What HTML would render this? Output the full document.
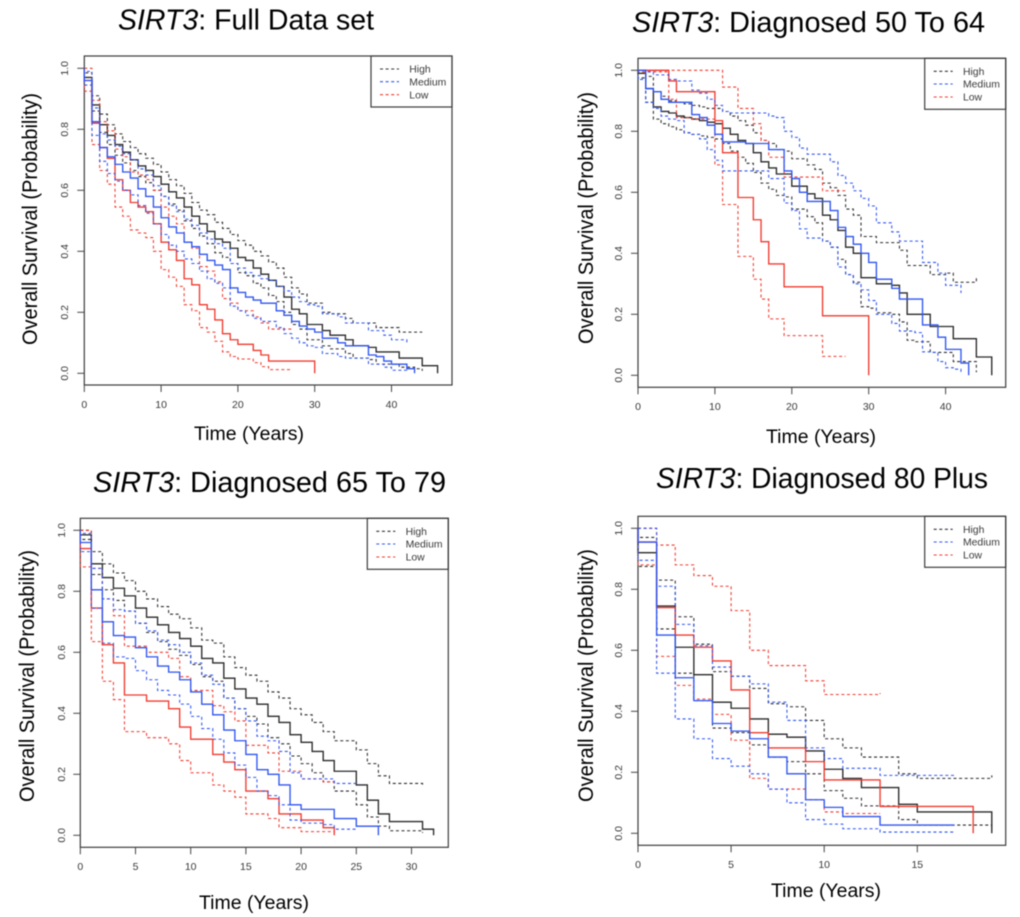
<!DOCTYPE html>
<html lang="en">
<head>
<meta charset="utf-8">
<title>SIRT3 survival curves</title>
<style>
html,body{margin:0;padding:0;background:#fff;width:1020px;height:917px;overflow:hidden}
svg{display:block;filter:blur(0.45px)}
text{font-family:"Liberation Sans",sans-serif}
.title,.axis-title{fill:#000}
.tick{font-size:10.5px;fill:#3a3a3a}
.legend-text{font-size:10.4px;fill:#3a3a3a}
.frame{fill:none;stroke:#3c3c3c;stroke-width:1.2}
.legend-line{stroke-width:1.05;stroke-dasharray:3 2.6}
</style>
</head>
<body>
<svg id="chart" xmlns="http://www.w3.org/2000/svg" width="1020" height="917" viewBox="0 0 1020 917">
  <rect x="0" y="0" width="1020" height="917" fill="#fff"/>

  <g id="panel-full">
    <text class="title" x="118" y="29.5" font-size="29" textLength="256" lengthAdjust="spacingAndGlyphs"><tspan font-style="italic">SIRT3</tspan>: Full Data set</text>
    <text class="axis-title" transform="translate(37,345) rotate(-90)" font-size="21" textLength="252" lengthAdjust="spacingAndGlyphs">Overall Survival (Probability)</text>
    <text class="axis-title" x="194" y="440" font-size="19" textLength="110" lengthAdjust="spacingAndGlyphs">Time (Years)</text>
    <rect class="frame" x="84.3" y="56" width="367.7" height="329"/>
    <g>
      <rect class="frame" x="371" y="56" width="81" height="51"/>
      <line class="legend-line" x1="380" x2="399" y1="69" y2="69" stroke="#333"/>
      <line class="legend-line" x1="380" x2="399" y1="81.7" y2="81.7" stroke="#2f55f0"/>
      <line class="legend-line" x1="380" x2="399" y1="94.7" y2="94.7" stroke="#f03a2e"/>
      <text class="legend-text" x="409.3" y="72.7">High</text>
      <text class="legend-text" x="409.3" y="85.4">Medium</text>
      <text class="legend-text" x="409.3" y="98.4">Low</text>
    </g>
  </g>

  <g id="panel-50">
    <text class="title" x="632" y="32" font-size="29" textLength="353" lengthAdjust="spacingAndGlyphs"><tspan font-style="italic">SIRT3</tspan>: Diagnosed 50 To 64</text>
    <text class="axis-title" transform="translate(593,344) rotate(-90)" font-size="21" textLength="252" lengthAdjust="spacingAndGlyphs">Overall Survival (Probability)</text>
    <text class="axis-title" x="766" y="443" font-size="19" textLength="110" lengthAdjust="spacingAndGlyphs">Time (Years)</text>
    <rect class="frame" x="638" y="58.3" width="367.7" height="329"/>
    <g>
      <rect class="frame" x="924.7" y="58.3" width="81" height="51"/>
      <line class="legend-line" x1="933.7" x2="952.7" y1="71.3" y2="71.3" stroke="#333"/>
      <line class="legend-line" x1="933.7" x2="952.7" y1="84" y2="84" stroke="#2f55f0"/>
      <line class="legend-line" x1="933.7" x2="952.7" y1="97" y2="97" stroke="#f03a2e"/>
      <text class="legend-text" x="963" y="75">High</text>
      <text class="legend-text" x="963" y="87.7">Medium</text>
      <text class="legend-text" x="963" y="100.7">Low</text>
    </g>
  </g>

  <g id="panel-65">
    <text class="title" x="93" y="492" font-size="29" textLength="353" lengthAdjust="spacingAndGlyphs"><tspan font-style="italic">SIRT3</tspan>: Diagnosed 65 To 79</text>
    <text class="axis-title" transform="translate(34,802) rotate(-90)" font-size="21" textLength="252" lengthAdjust="spacingAndGlyphs">Overall Survival (Probability)</text>
    <text class="axis-title" x="199" y="909" font-size="19" textLength="110" lengthAdjust="spacingAndGlyphs">Time (Years)</text>
    <rect class="frame" x="80.3" y="518.3" width="368" height="329"/>
    <g>
      <rect class="frame" x="367.3" y="518.3" width="81" height="51"/>
      <line class="legend-line" x1="376.3" x2="395.3" y1="531.3" y2="531.3" stroke="#333"/>
      <line class="legend-line" x1="376.3" x2="395.3" y1="544" y2="544" stroke="#2f55f0"/>
      <line class="legend-line" x1="376.3" x2="395.3" y1="557" y2="557" stroke="#f03a2e"/>
      <text class="legend-text" x="405.6" y="535">High</text>
      <text class="legend-text" x="405.6" y="547.7">Medium</text>
      <text class="legend-text" x="405.6" y="560.7">Low</text>
    </g>
  </g>

  <g id="panel-80">
    <text class="title" x="656" y="488" font-size="29" textLength="332" lengthAdjust="spacingAndGlyphs"><tspan font-style="italic">SIRT3</tspan>: Diagnosed 80 Plus</text>
    <text class="axis-title" transform="translate(593,802) rotate(-90)" font-size="21" textLength="253" lengthAdjust="spacingAndGlyphs">Overall Survival (Probability)</text>
    <text class="axis-title" x="771" y="897" font-size="19" textLength="110" lengthAdjust="spacingAndGlyphs">Time (Years)</text>
    <rect class="frame" x="638" y="516.3" width="367.7" height="329"/>
    <g>
      <rect class="frame" x="924.7" y="516.3" width="81" height="51"/>
      <line class="legend-line" x1="933.7" x2="952.7" y1="529.3" y2="529.3" stroke="#333"/>
      <line class="legend-line" x1="933.7" x2="952.7" y1="542" y2="542" stroke="#2f55f0"/>
      <line class="legend-line" x1="933.7" x2="952.7" y1="555" y2="555" stroke="#f03a2e"/>
      <text class="legend-text" x="963" y="533">High</text>
      <text class="legend-text" x="963" y="545.7">Medium</text>
      <text class="legend-text" x="963" y="558.7">Low</text>
    </g>
  </g>
</svg>

<script>
/* Values: survival at each whole year, index = year. The last entry sits at the curve's end year. */
const yTickValues = [0, 0.2, 0.4, 0.6, 0.8, 1];
const yTickLabels = ['0.0', '0.2', '0.4', '0.6', '0.8', '1.0'];
const xTicksFull = [0, 10, 20, 30, 40];
const xTicks50 = [0, 10, 20, 30, 40];
const xTicks65 = [0, 5, 10, 15, 20, 25, 30];
const xTicks80 = [0, 5, 10, 15];

/* Full data set */
const fullHighEst = [.97,.88,.815,.78,.75,.725,.70,.68,.665,.645, .62,.595,.575,.545,.515,.49,.465,.44,.43,.41, .38,.37,.345,.325,.305,.285,.25,.21,.195,.16, .16,.14,.125,.125,.11,.09,.09,.085,.07,.07, .07,.05,.05,.05,.025,.025,0];
const fullHighUpper = [.985,.91,.85,.815,.785,.76,.74,.72,.705,.685, .66,.635,.615,.59,.56,.535,.52,.495,.475,.455, .435,.42,.40,.385,.365,.345,.315,.28,.26,.23, .23,.20,.195,.195,.18,.165,.165,.165,.15,.15, .15,.135,.135,.135,.135];
const fullHighLower = [.96,.86,.79,.75,.715,.69,.665,.645,.625,.60, .58,.555,.535,.50,.475,.45,.425,.395,.38,.36, .33,.32,.295,.28,.255,.235,.20,.16,.145,.11, .11,.09,.08,.08,.065,.05,.05,.045,.03,.03, .03,.02,.02,.015,.008];
const fullMediumEst = [.96,.825,.74,.71,.685,.66,.64,.605,.58,.545, .51,.48,.46,.43,.415,.39,.37,.355,.34,.28, .265,.25,.24,.23,.23,.205,.19,.17,.155,.145, .135,.115,.115,.10,.09,.09,.09,.06,.055,.04, .03,.03,.015,0];
const fullMediumUpper = [.99,.87,.785,.765,.745,.72,.70,.67,.65,.615, .58,.55,.53,.505,.485,.46,.44,.425,.41,.36, .345,.33,.32,.31,.305,.285,.27,.25,.235,.225, .22,.195,.195,.185,.165,.165,.165,.14,.14,.125, .11,.11,.10];
const fullMediumLower = [.945,.78,.695,.655,.63,.60,.585,.55,.525,.49, .455,.42,.40,.375,.36,.335,.31,.295,.28,.22, .205,.19,.18,.17,.17,.15,.13,.115,.10,.09, .085,.065,.065,.055,.05,.05,.05,.03,.03,.02, .01,.01,.008];
const fullLowEst = [.96,.82,.74,.705,.635,.60,.56,.545,.53,.49, .43,.405,.37,.31,.29,.225,.21,.175,.13,.11, .095,.095,.075,.06,.04,.04,.04,.04,.04,.04, 0];
const fullLowUpper = [1,.895,.825,.795,.735,.71,.66,.65,.635,.60, .545,.515,.49,.43,.41,.35,.335,.30,.245,.23, .205,.205,.185,.165,.145,.145,.145,.145];
const fullLowLower = [.925,.75,.665,.62,.545,.515,.47,.46,.445,.40, .34,.315,.285,.225,.205,.15,.135,.105,.07,.055, .047,.047,.035,.022,.012,.012,.012,.012];

/* Diagnosed 50 to 64 */
const d50HighEst = [.99,.94,.88,.865,.86,.85,.845,.84,.835,.83, .825,.81,.79,.77,.76,.73,.70,.68,.66,.66, .62,.62,.595,.58,.525,.51,.475,.42,.40,.32, .32,.30,.30,.295,.27,.20,.20,.20,.16,.16, .16,.12,.12,.12,.06,.06,0];
const d50HighUpper = [1,.98,.93,.915,.90,.895,.89,.885,.88,.875, .875,.865,.85,.835,.82,.795,.77,.76,.74,.735, .71,.71,.69,.675,.63,.615,.59,.545,.525,.455, .455,.435,.435,.435,.41,.36,.36,.36,.33,.33, .335,.305,.305,.305,.32];
const d50HighLower = [.975,.895,.84,.825,.815,.805,.795,.79,.785,.78, .775,.76,.735,.715,.695,.665,.63,.61,.59,.585, .545,.545,.52,.50,.44,.42,.38,.33,.305,.225, .22,.205,.205,.20,.175,.115,.11,.11,.075,.075, .075,.045,.045,.045,.01];
const d50MediumEst = [1,.94,.93,.905,.895,.895,.895,.855,.845,.82, .79,.765,.765,.765,.76,.76,.76,.74,.74,.67, .645,.60,.57,.57,.57,.54,.485,.455,.43,.40, .37,.315,.315,.285,.25,.25,.25,.165,.165,.125, .085,.085,.04,0];
const d50MediumUpper = [1,.995,.985,.985,.97,.965,.965,.935,.925,.905, .885,.865,.86,.86,.86,.86,.86,.85,.845,.80, .78,.745,.725,.725,.725,.70,.655,.63,.605,.58, .555,.50,.50,.47,.44,.44,.44,.37,.37,.335, .295,.295,.27];
const d50MediumLower = [.97,.895,.875,.85,.84,.835,.795,.79,.775,.74, .705,.67,.67,.67,.67,.67,.67,.645,.645,.565, .54,.48,.45,.45,.44,.42,.355,.33,.30,.28, .245,.20,.20,.17,.145,.145,.14,.077,.075,.045, .025,.02,.01];
const d50LowEst = [1,1,1,1,.965,.93,.93,.93,.93,.93, .835,.73,.73,.583,.583,.51,.438,.365,.365,.29, .29,.29,.29,.29,.195,.195,.195,.195,.195,.195, 0];
const d50LowUpper = [1,1,1,1,1,1,1,1,1,1, 1,.945,.945,.875,.875,.825,.77,.715,.715,.65, .65,.65,.65,.65,.605,.605,.605,.60];
const d50LowLower = [.995,.995,.995,.995,.905,.845,.845,.84,.84,.84, .69,.56,.56,.39,.39,.315,.25,.185,.185,.13, .13,.13,.13,.13,.062,.062,.062,.062];

/* Diagnosed 65 to 79 */
const d65HighEst = [.985,.89,.845,.81,.785,.745,.715,.69,.665,.645, .62,.58,.565,.515,.48,.45,.43,.39,.37,.33, .305,.275,.245,.21,.21,.165,.115,.07,.045,.045, .045,.02,0];
const d65HighUpper = [1,.93,.89,.86,.835,.80,.775,.75,.725,.71, .68,.64,.63,.585,.55,.525,.505,.47,.45,.415, .395,.37,.34,.31,.31,.28,.235,.195,.17,.17, .17,.16];
const d65HighLower = [.97,.855,.805,.77,.735,.695,.665,.635,.61,.59, .56,.52,.505,.45,.415,.39,.365,.32,.30,.26, .235,.205,.175,.145,.145,.10,.06,.03,.015,.015, .015,.008];
const d65MediumEst = [.96,.805,.70,.655,.65,.615,.585,.555,.535,.51, .47,.43,.395,.345,.31,.265,.215,.20,.165,.10, .085,.085,.085,.055,.055,.03,.03,0];
const d65MediumUpper = [.99,.875,.775,.74,.735,.695,.67,.64,.625,.60, .565,.525,.495,.45,.415,.375,.325,.31,.275,.205, .185,.185,.185,.17,.17,.17];
const d65MediumLower = [.93,.745,.63,.585,.58,.54,.51,.475,.46,.43, .39,.35,.315,.27,.23,.19,.145,.13,.10,.05, .04,.04,.035,.02,.02,.015];
const d65LowEst = [.94,.745,.625,.565,.46,.46,.44,.44,.415,.355, .315,.315,.265,.24,.215,.145,.145,.12,.07,.07, .05,.05,.025,0];
const d65LowUpper = [1,.875,.775,.72,.62,.62,.60,.60,.58,.52, .475,.475,.425,.405,.375,.295,.295,.27,.21,.21, .185,.185,.175,.17];
const d65LowLower = [.88,.635,.505,.445,.34,.34,.32,.32,.30,.245, .205,.205,.165,.145,.125,.07,.07,.055,.025,.025, .012,.012,.012,.012];

/* Diagnosed 80 plus */
const d80HighEst = [.92,.745,.61,.52,.43,.41,.375,.325,.315,.27, .21,.18,.15,.15,.095,.07,.07,.07,.07,0];
const d80HighUpper = [.97,.83,.71,.62,.53,.515,.475,.425,.415,.37, .31,.28,.25,.25,.195,.18,.18,.18,.18,.19];
const d80HighLower = [.875,.67,.525,.435,.345,.33,.29,.25,.235,.195, .14,.115,.09,.09,.045,.027,.027,.027,.027,.01];
const d80MediumEst = [.955,.65,.51,.435,.36,.335,.31,.25,.195,.11, .085,.055,.055,.027,.027,.027,.027,.027];
const d80MediumUpper = [1,.81,.685,.615,.545,.515,.49,.43,.37,.28, .245,.213,.213,.19,.19,.19,.19,.19];
const d80MediumLower = [.895,.525,.375,.31,.245,.22,.195,.145,.10,.045, .03,.015,.015,.004,.004,.004,.004,.004];
const d80LowEst = [.955,.74,.65,.61,.565,.47,.33,.28,.28,.235, .175,.175,.175,.088,.088,.088,.088,.088,0];
const d80LowUpper = [1,.945,.88,.845,.81,.73,.60,.55,.55,.50, .455,.455,.455,.46];
const d80LowLower = [.88,.58,.485,.44,.39,.305,.18,.145,.145,.11, .07,.065,.065,.065];

const SVG_NS = 'http://www.w3.org/2000/svg';
const COLORS = { high: '#2a2a2a', medium: '#2f55f0', low: '#f03a2e' };

function makeXScale(x0, pxPerYear) {
  return function (t) { return x0 + t * pxPerYear; };
}
function makeYScale(yZero, yOne) {
  return function (v) { return yZero - v * (yZero - yOne); };
}

function stepPath(values, x, y) {
  let d = 'M' + x(0) + ' ' + y(1);
  for (let i = 0; i < values.length; i++) {
    d += 'H' + x(i).toFixed(2) + 'V' + y(values[i]).toFixed(2);
  }
  return d;
}

function drawCurve(group, name, values, color, dashed, x, y) {
  const el = document.createElementNS(SVG_NS, 'path');
  
  
  el.setAttribute('d', stepPath(values, x, y));
  el.setAttribute('fill', 'none');
  el.setAttribute('stroke', color);
  el.setAttribute('stroke-width', dashed ? '1.05' : '1.35');
  if (dashed) el.setAttribute('stroke-dasharray', '3 2.6');
  group.appendChild(el);
}

function drawAxes(group, xTicks, x, y, frameBottom, frameLeft, xLabelY, yLabelX) {
  xTicks.forEach(function (t) {
    const tick = document.createElementNS(SVG_NS, 'line');
    
    
    tick.setAttribute('x1', x(t)); tick.setAttribute('x2', x(t));
    tick.setAttribute('y1', frameBottom); tick.setAttribute('y2', frameBottom + 7);
    tick.setAttribute('stroke', '#444');
    group.appendChild(tick);
    const label = document.createElementNS(SVG_NS, 'text');
    
    
    label.setAttribute('class', 'tick');
    label.setAttribute('x', x(t));
    label.setAttribute('y', xLabelY);
    label.setAttribute('text-anchor', 'middle');
    label.textContent = String(t);
    group.appendChild(label);
  });
  yTickValues.forEach(function (v, i) {
    const tick = document.createElementNS(SVG_NS, 'line');
    
    
    tick.setAttribute('x1', frameLeft - 7); tick.setAttribute('x2', frameLeft);
    tick.setAttribute('y1', y(v)); tick.setAttribute('y2', y(v));
    tick.setAttribute('stroke', '#444');
    group.appendChild(tick);
    const label = document.createElementNS(SVG_NS, 'text');
    
    
    label.setAttribute('class', 'tick');
    label.setAttribute('text-anchor', 'middle');
    label.setAttribute('transform', 'translate(' + yLabelX + ',' + y(v) + ') rotate(-90)');
    label.textContent = yTickLabels[i];
    group.appendChild(label);
  });
}

function drawPanel(id, layout, xTicks, series) {
  const group = document.getElementById(id);
  const x = makeXScale(layout.x0, layout.pxPerYear);
  const y = makeYScale(layout.yZero, layout.yOne);
  drawAxes(group, xTicks, x, y, layout.bottom, layout.x0, layout.xLabelY, layout.yLabelX);
  const curves = document.createElementNS(SVG_NS, 'g');
  
  
  series.forEach(function (s) {
    drawCurve(curves, s[0], s[1], s[2], s[3], x, y);
  });
  const legend = group.querySelector('g');
  group.insertBefore(curves, legend);
}

drawPanel('panel-full', { x0: 84.3, pxPerYear: 7.68, yZero: 373.3, yOne: 68.3, bottom: 385, xLabelY: 408, yLabelX: 68 }, xTicksFull, [
  ['high-upper-ci', fullHighUpper, COLORS.high, true], ['high-lower-ci', fullHighLower, COLORS.high, true], ['high-survival', fullHighEst, COLORS.high, false],
  ['low-upper-ci', fullLowUpper, COLORS.low, true], ['low-lower-ci', fullLowLower, COLORS.low, true], ['low-survival', fullLowEst, COLORS.low, false],
  ['medium-upper-ci', fullMediumUpper, COLORS.medium, true], ['medium-lower-ci', fullMediumLower, COLORS.medium, true], ['medium-survival', fullMediumEst, COLORS.medium, false]
]);
drawPanel('panel-50', { x0: 638, pxPerYear: 7.69, yZero: 375.3, yOne: 70.3, bottom: 387.3, xLabelY: 410, yLabelX: 622 }, xTicks50, [
  ['high-upper-ci', d50HighUpper, COLORS.high, true], ['high-lower-ci', d50HighLower, COLORS.high, true], ['high-survival', d50HighEst, COLORS.high, false],
  ['low-upper-ci', d50LowUpper, COLORS.low, true], ['low-lower-ci', d50LowLower, COLORS.low, true], ['low-survival', d50LowEst, COLORS.low, false],
  ['medium-upper-ci', d50MediumUpper, COLORS.medium, true], ['medium-lower-ci', d50MediumLower, COLORS.medium, true], ['medium-survival', d50MediumEst, COLORS.medium, false]
]);
drawPanel('panel-65', { x0: 80.3, pxPerYear: 11.04, yZero: 835.3, yOne: 530.3, bottom: 847.3, xLabelY: 870, yLabelX: 65 }, xTicks65, [
  ['high-upper-ci', d65HighUpper, COLORS.high, true], ['high-lower-ci', d65HighLower, COLORS.high, true], ['high-survival', d65HighEst, COLORS.high, false],
  ['low-upper-ci', d65LowUpper, COLORS.low, true], ['low-lower-ci', d65LowLower, COLORS.low, true], ['low-survival', d65LowEst, COLORS.low, false],
  ['medium-upper-ci', d65MediumUpper, COLORS.medium, true], ['medium-lower-ci', d65MediumLower, COLORS.medium, true], ['medium-survival', d65MediumEst, COLORS.medium, false]
]);
drawPanel('panel-80', { x0: 638, pxPerYear: 18.62, yZero: 833.3, yOne: 528.3, bottom: 845.3, xLabelY: 868, yLabelX: 622 }, xTicks80, [
  ['high-upper-ci', d80HighUpper, COLORS.high, true], ['high-lower-ci', d80HighLower, COLORS.high, true], ['high-survival', d80HighEst, COLORS.high, false],
  ['low-upper-ci', d80LowUpper, COLORS.low, true], ['low-lower-ci', d80LowLower, COLORS.low, true], ['low-survival', d80LowEst, COLORS.low, false],
  ['medium-upper-ci', d80MediumUpper, COLORS.medium, true], ['medium-lower-ci', d80MediumLower, COLORS.medium, true], ['medium-survival', d80MediumEst, COLORS.medium, false]
]);
</script>
</body>
</html>
